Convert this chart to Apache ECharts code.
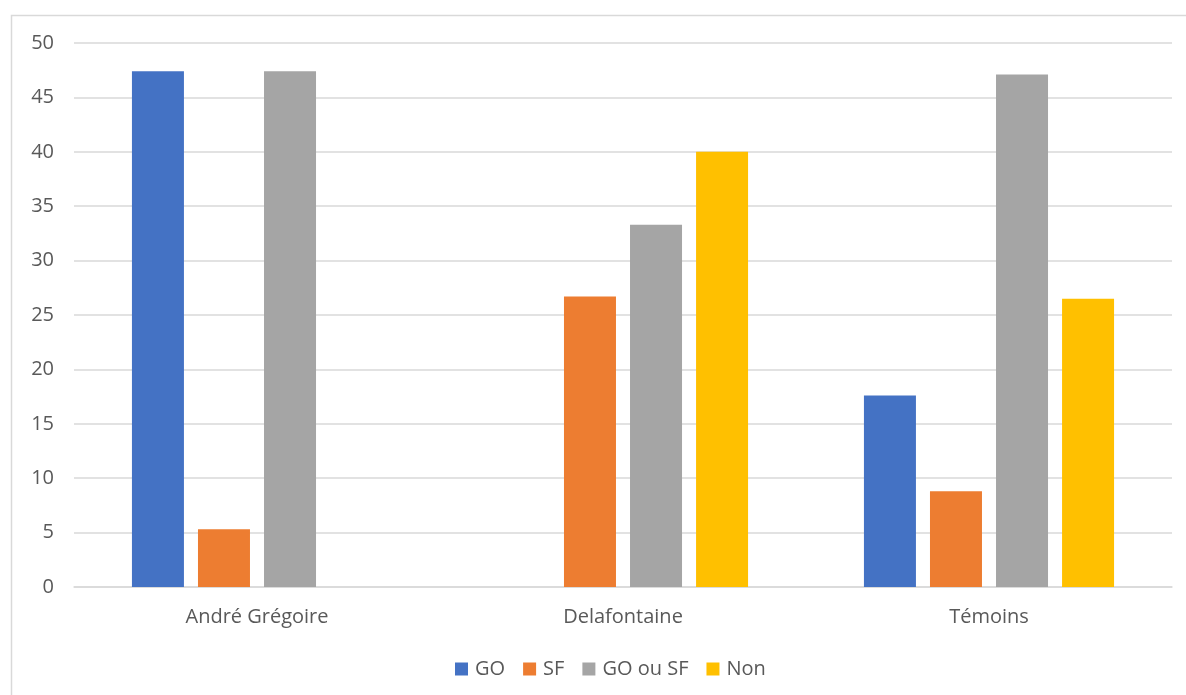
<!DOCTYPE html>
<html>
<head>
<meta charset="utf-8">
<script src="https://cdn.jsdelivr.net/npm/echarts@6/dist/echarts.min.js"></script>
<style>
html,body{margin:0;padding:0;background:#fff;}
#chart{width:1186px;height:695px;}
</style>
</head>
<body>
<div id="chart"></div>
<script>
const categories = ['André Grégoire', 'Delafontaine', 'Témoins'];
const seriesNames = ['GO', 'SF', 'GO ou SF', 'Non'];
const goValues = [47.4, 0, 17.6];
const sfValues = [5.3, 26.7, 8.8];
const goOuSfValues = [47.4, 33.3, 47.1];
const nonValues = [0, 40.0, 26.5];
const yTicks = { min: 0, max: 50, interval: 5 };

const colors = ['#4472C4', '#ED7D31', '#A5A5A5', '#FFC000'];
const allValues = [goValues, sfValues, goOuSfValues, nonValues];
const font = '"Open Sans", "Noto Sans", sans-serif';

const chart = echarts.init(document.getElementById('chart'));
chart.setOption({
  animation: false,
  color: colors,
  graphic: [{
    type: 'rect',
    shape: { x: 11.5, y: 15.5, width: 1190, height: 700 },
    style: { fill: 'none', stroke: '#d9d9d9', lineWidth: 1.5 },
    silent: true
  }],
  grid: { left: 74, right: 14, top: 43, bottom: 108, containLabel: false },
  legend: {
    data: seriesNames,
    bottom: 11,
    left: 450,
    icon: 'rect',
    itemWidth: 13,
    itemHeight: 13,
    itemGap: 18,
    textStyle: { color: '#595959', fontSize: 20, fontFamily: font, padding: [0, 0, 0, 2] }
  },
  xAxis: {
    type: 'category',
    data: categories,
    axisLine: { lineStyle: { color: '#d9d9d9', width: 1.5 } },
    axisTick: { show: false },
    axisLabel: { color: '#595959', fontSize: 20, fontFamily: font, margin: 20 }
  },
  yAxis: {
    type: 'value',
    min: yTicks.min,
    max: yTicks.max,
    interval: yTicks.interval,
    axisLine: { show: false },
    axisTick: { show: false },
    splitLine: { lineStyle: { color: '#d9d9d9', width: 1.5 } },
    axisLabel: { color: '#595959', fontSize: 20, fontFamily: font, margin: 20 }
  },
  series: seriesNames.map((name, i) => ({
    name: name,
    type: 'bar',
    data: allValues[i],
    barWidth: 52,
    barGap: '27%',
    itemStyle: { color: colors[i] }
  }))
});
</script>
</body>
</html>
